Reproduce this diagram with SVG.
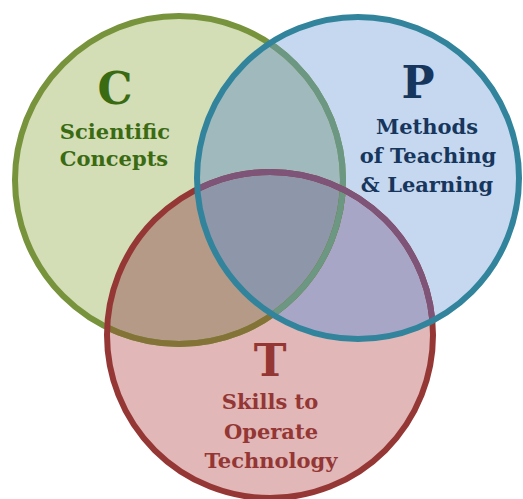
<svg xmlns="http://www.w3.org/2000/svg" width="523" height="499" viewBox="0 0 523 499">
<style>
.lbl{font-family:"DejaVu Serif","Liberation Serif",serif;font-weight:bold;text-anchor:middle}
.big{font-size:44px}
.txt{font-size:21px}
.ring{fill:none;stroke-width:6}
.c-txt{fill:#3A6B12}
.p-txt{fill:#17365D}
.t-txt{fill:#943634}
</style>
<defs>
<clipPath id="inG"><circle cx="179" cy="180" r="164"/></clipPath>
<clipPath id="inR"><circle cx="270" cy="335" r="163"/></clipPath>
<clipPath id="inB"><circle cx="358" cy="178" r="161"/></clipPath>
<clipPath id="clipLearn"><rect x="0" y="0" width="523" height="197"/></clipPath>
<clipPath id="clipTech"><rect x="0" y="0" width="523" height="472"/></clipPath>
</defs>
<rect width="523" height="499" fill="#FFFFFF"/>
<g id="regions">
<circle cx="179" cy="180" r="164" fill="#D3DDB6"/>
<circle cx="270" cy="335" r="163" fill="#E1B7B7"/>
<circle cx="358" cy="178" r="161" fill="#C5D8EF"/>
<circle cx="270" cy="335" r="163" fill="#B49A87" clip-path="url(#inG)"/>
<circle cx="358" cy="178" r="161" fill="#9FB9BC" clip-path="url(#inG)"/>
<circle cx="358" cy="178" r="161" fill="#A8A6C7" clip-path="url(#inR)"/>
<g clip-path="url(#inG)"><circle cx="358" cy="178" r="161" fill="#8D97A9" clip-path="url(#inR)"/></g>
</g>
<g id="node-C">
<circle class="ring" cx="179" cy="180" r="164" stroke="#77933C"/>
<circle class="ring" cx="179" cy="180" r="164" stroke="#847336" clip-path="url(#inR)"/>
<circle class="ring" cx="179" cy="180" r="164" stroke="#6C9783" clip-path="url(#inB)"/>
<text class="lbl big c-txt" x="115" y="104">C</text>
<text class="lbl txt c-txt" x="115" y="139">Scientific</text>
<text class="lbl txt c-txt" x="114" y="166">Concepts</text>
</g>
<g id="node-T">
<circle class="ring" cx="270" cy="335" r="163" stroke="#953735"/>
<circle class="ring" cx="270" cy="335" r="163" stroke="#7E5478" clip-path="url(#inB)"/>
<text class="lbl big t-txt" x="270" y="376">T</text>
<text class="lbl txt t-txt" x="270" y="409">Skills to</text>
<text class="lbl txt t-txt" x="271" y="439">Operate</text>
<text class="lbl txt t-txt" x="271" y="468" clip-path="url(#clipTech)">Technology</text>
</g>
<g id="node-P">
<circle class="ring" cx="358" cy="178" r="161" stroke="#31849B"/>
<text class="lbl big p-txt" x="418" y="98">P</text>
<text class="lbl txt p-txt" x="427" y="134">Methods</text>
<text class="lbl txt p-txt" x="428" y="163">of Teaching</text>
<text class="lbl txt p-txt" x="427" y="192" clip-path="url(#clipLearn)">&amp; Learning</text>
</g>
</svg>
